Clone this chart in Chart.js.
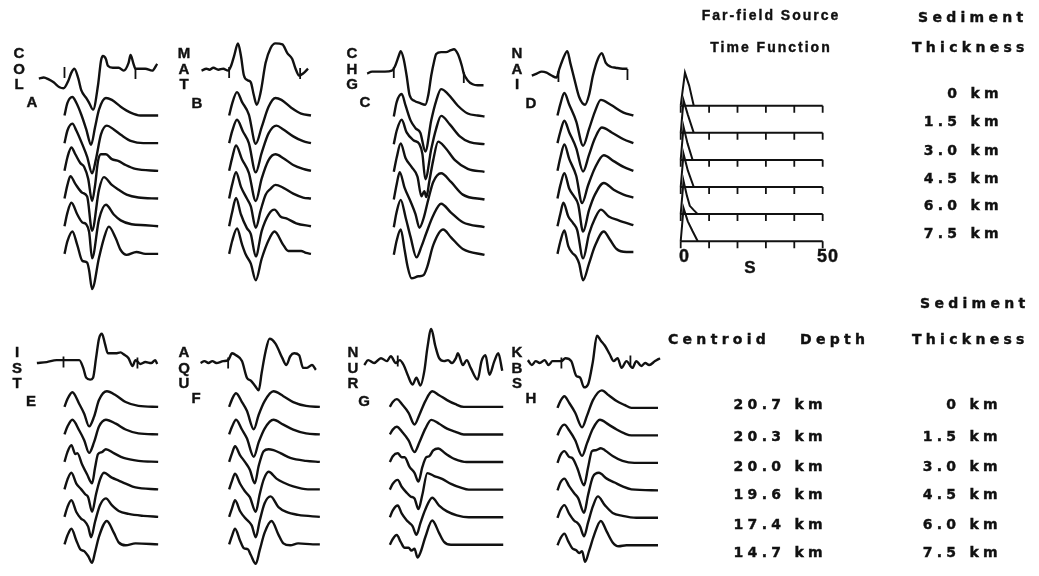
<!DOCTYPE html>
<html>
<head>
<meta charset="utf-8">
<script src="https://cdn.jsdelivr.net/npm/chart.js@4/dist/chart.umd.min.js"></script>
<style>
  body { margin: 0; background: #fff; }
  #wrap { position: relative; width: 1039px; height: 576px; background: #fff; overflow: hidden; }
  #fig { position: absolute; left: 0; top: 0; }
  .t { position: absolute; font-family: 'Liberation Sans', Arial, sans-serif; font-weight: bold; color: #111;
       white-space: pre; line-height: 1; -webkit-text-stroke: 0.4px #111; }
  .m { font-family: 'DejaVu Sans', sans-serif; font-size: 14px; letter-spacing: 4.3px; }
  .c { transform: translate(-50%, -50%); }
  .l { transform: translate(0, -50%); }
  .r { transform: translate(-100%, -50%); }
</style>
</head>
<body>
<div id="wrap">
  <canvas id="fig" width="1039" height="576"></canvas>
</div>
<script>
// ==========================================
// Record section: observed (top) vs synthetics for 6 sediment thicknesses
// t = horizontal sample, a = amplitude (plot units)
// ==========================================

const stations = ['COL', 'MAT', 'CHG', 'NAI', 'IST', 'AQU', 'NUR', 'KBS'];
const panelLetters = ['A', 'B', 'C', 'D', 'E', 'F', 'G', 'H'];
const thicknessKm = ['0', '1.5', '3.0', '4.5', '6.0', '7.5'];
const centroidDepthKm = ['20.7', '20.3', '20.0', '19.6', '17.4', '14.7'];
const stfTicks = [0, 10, 20, 30, 40, 50];

// --- A: COL
const colObs = [[0,0],[5,1],[10,-1],[15,-4],[21,-9],[25,-10],[30,-2],[33,6],[36,10],[40,0],[43,-12],[48,-20],[51,-25],[55,-32],[60,-7],[63,18],[65,23],[68,20],[70,13],[75,11],[81,11],[86,8],[91,16],[93,24],[96,15],[98,10],[101,10],[108,10],[115,8],[120,15]];
const colPicks = [[26,6],[98,5]];
const colSyn = [
  [[0,0],[3,13],[8,19],[12,13],[17,1],[22,-14],[27,-30],[31,-12],[35,6],[42,18],[48,16],[57,9],[67,3],[77,0],[95,0]],
  [[0,0],[3,13],[8,20],[12,13],[18,-1],[23,-14],[28,-31],[32,-16],[37,9],[43,18],[50,14],[58,8],[68,2],[80,0],[95,0]],
  [[0,0],[3,14],[7,24],[11,17],[16,8],[20,4],[24,-8],[28,-31],[31,-15],[34,10],[37,17],[42,17],[48,12],[55,10],[62,6],[72,2],[95,0]],
  [[0,0],[3,14],[6,23],[11,15],[18,6],[23,2],[28,-33],[35,9],[40,22],[48,14],[55,9],[63,4],[75,1],[95,0]],
  [[0,0],[3,14],[7,24],[13,12],[18,4],[22,2],[25,-6],[28,-33],[35,7],[42,22],[50,12],[57,6],[68,2],[82,1],[95,0]],
  [[0,0],[3,13],[8,23],[13,9],[18,-7],[23,-9],[25,-17],[28,-36],[35,-4],[40,16],[45,28],[52,16],[57,4],[63,-1],[73,2],[82,0],[95,0]]
];

// --- B: MAT
const matObs = [[0,0],[5,2],[8,1],[12,3],[17,1],[22,2],[27,0],[30,5],[33,15],[37,28],[40,15],[43,-5],[47,-10],[50,-12],[53,-25],[56,-35],[60,-22],[65,8],[70,23],[75,28],[82,27],[87,18],[92,12],[95,3],[99,-5],[103,-3],[108,2]];
const matPicks = [[28,-2],[100,-3]];
const matSyn = [
  [[0,0],[3,12],[8,24],[13,14],[20,1],[27,-29],[33,-12],[40,9],[47,18],[53,16],[63,8],[73,2],[83,0]],
  [[0,0],[3,12],[8,24],[14,12],[20,0],[27,-30],[33,-10],[40,10],[48,18],[55,14],[65,7],[75,2],[83,0]],
  [[0,0],[3,13],[7,26],[13,12],[20,-2],[27,-31],[33,-8],[40,11],[47,17],[55,13],[65,6],[75,2],[83,0]],
  [[0,0],[3,14],[7,27],[12,12],[18,0],[22,-8],[27,-30],[32,-12],[37,4],[42,10],[47,14],[55,11],[65,5],[75,1],[83,0]],
  [[0,0],[3,14],[7,29],[12,12],[18,-2],[22,-8],[27,-31],[33,-5],[40,12],[46,17],[52,10],[58,8],[68,3],[83,0]],
  [[0,0],[3,13],[8,26],[13,10],[17,-1],[22,-10],[27,-27],[33,-5],[40,14],[46,23],[55,9],[60,3],[73,3],[78,1],[83,0]]
];

// --- C: CHG
const chgObs = [[0,0],[5,2],[12,2],[18,2],[25,3],[28,7],[32,18],[34,23],[37,15],[40,-2],[43,-22],[48,-28],[53,-30],[59,-32],[62,-22],[65,-2],[68,13],[70,20],[75,22],[80,22],[85,24],[88,25],[92,20],[96,8],[98,0],[102,-7],[107,-11],[112,-12],[118,-12]];
const chgPicks = [[27,1],[98,-4]];
const chgSyn = [
  [[0,0],[3,15],[8,23],[12,11],[17,-4],[22,-12],[27,-17],[32,-36],[38,-4],[43,16],[48,28],[55,23],[65,11],[75,3],[85,1],[92,0]],
  [[0,0],[3,14],[8,25],[13,12],[20,4],[26,0],[29,-10],[32,-36],[38,-5],[43,16],[48,29],[57,20],[67,8],[77,2],[92,0]],
  [[0,0],[3,15],[7,29],[12,14],[18,5],[24,-5],[28,-25],[31,-20],[33,-26],[36,-10],[40,12],[45,31],[52,25],[62,12],[75,3],[92,0]],
  [[0,0],[3,16],[6,28],[11,12],[17,-2],[22,-15],[26,-29],[30,-20],[35,0],[40,18],[48,27],[58,18],[70,5],[92,0]],
  [[0,0],[3,16],[7,28],[12,10],[17,-10],[23,-31],[28,-20],[33,-6],[40,12],[48,24],[58,15],[70,5],[92,0]],
  [[0,0],[3,15],[7,26],[11,5],[14,-12],[18,-24],[25,-22],[30,-21],[34,-12],[40,10],[50,26],[58,18],[70,6],[92,0]]
];

// --- D: NAI
const naiObs = [[0,0],[5,2],[10,4],[15,3],[20,0],[25,-2],[28,7],[32,18],[36,25],[39,13],[43,-3],[48,-22],[54,-30],[58,-20],[62,0],[67,17],[71,23],[75,13],[80,9],[85,8],[92,7],[97,7]];
const naiPicks = [[27,-1],[97,1]];
const naiSyn = [
  [[0,0],[3,12],[7,23],[12,11],[19,-6],[26,-31],[32,-14],[38,4],[44,16],[54,11],[67,3],[77,0]],
  [[0,0],[3,12],[7,23],[12,11],[19,-5],[26,-29],[32,-12],[38,5],[45,16],[55,11],[67,4],[77,0]],
  [[0,0],[3,14],[7,27],[12,12],[19,-5],[25,-33],[31,-15],[38,3],[47,16],[57,10],[67,4],[77,0]],
  [[0,0],[3,14],[7,26],[12,10],[17,2],[21,-6],[26,-34],[32,-12],[38,4],[47,16],[57,9],[67,4],[77,1]],
  [[0,0],[3,13],[6,24],[11,10],[16,3],[20,-4],[26,-33],[32,-8],[38,8],[44,17],[52,10],[62,6],[77,1]],
  [[0,0],[3,13],[7,24],[11,8],[15,1],[19,-3],[22,-10],[26,-27],[32,-10],[38,8],[47,23],[53,15],[60,5],[70,2],[77,2]]
];

// --- E: IST
const istObs = [[0,0],[10,1],[20,3],[27,3],[35,3],[43,3],[47,-5],[50,-15],[54,-17],[57,-15],[60,5],[63,25],[66,30],[69,20],[72,10],[80,10],[85,11],[88,9],[93,5],[97,-3],[100,3],[105,-1],[110,1],[116,0],[120,3],[122,-1]];
const istPicks = [[27,1],[102,0]];
const istSyn = [
  [[0,0],[3,8],[8,15],[15,3],[20,-7],[25,-20],[30,-10],[35,7],[43,16],[52,12],[62,5],[75,1],[95,0]],
  [[0,0],[3,8],[8,15],[15,4],[20,-6],[25,-19],[30,-8],[35,8],[42,15],[52,11],[62,5],[75,1],[95,0]],
  [[0,0],[3,10],[7,17],[11,8],[13,9],[18,-3],[23,-13],[28,-22],[31,-6],[34,8],[38,10],[42,13],[50,9],[60,4],[75,1],[95,0]],
  [[0,0],[3,10],[7,17],[12,6],[17,0],[21,-5],[24,-8],[28,-23],[32,-5],[36,10],[40,17],[48,12],[55,9],[62,6],[72,2],[95,0]],
  [[0,0],[3,10],[7,17],[12,5],[17,-2],[20,-4],[24,-10],[27,-21],[31,-5],[36,12],[42,19],[48,12],[55,6],[65,3],[80,1],[95,0]],
  [[0,0],[3,9],[7,16],[12,4],[16,-5],[20,-7],[24,-12],[28,-19],[31,-8],[35,8],[43,24],[50,12],[55,2],[62,-1],[72,1],[95,0]]
];

// --- F: AQU
const aquObs = [[0,0],[4,2],[8,0],[12,2],[16,0],[23,2],[28,3],[32,10],[36,8],[42,2],[47,-15],[51,-18],[55,-23],[59,-28],[62,-10],[66,12],[70,25],[76,20],[83,5],[87,-2],[91,7],[95,10],[100,8],[104,-5],[108,-5],[113,-2],[117,-7]];
const aquPicks = [[28,0]];
const aquSyn = [
  [[0,0],[3,8],[7,14],[13,5],[18,-4],[25,-23],[30,-8],[36,6],[45,16],[55,11],[65,5],[78,1],[92,0]],
  [[0,0],[3,8],[7,15],[13,5],[18,-4],[25,-23],[30,-8],[36,6],[45,15],[55,10],[65,5],[78,1],[92,0]],
  [[0,0],[3,9],[6,16],[11,7],[16,0],[21,-8],[26,-22],[30,-4],[35,11],[40,13],[45,12],[52,9],[62,4],[78,1],[92,0]],
  [[0,0],[3,9],[6,16],[11,6],[16,-2],[21,-8],[27,-23],[31,-5],[35,10],[40,18],[48,11],[55,7],[65,3],[80,0],[92,0]],
  [[0,0],[3,9],[6,17],[11,6],[16,-1],[20,-5],[23,-9],[27,-21],[31,-4],[36,14],[42,21],[50,10],[58,5],[70,2],[92,0]],
  [[0,0],[3,9],[6,16],[11,4],[15,-4],[19,-5],[22,-11],[27,-20],[31,-6],[36,12],[43,24],[50,10],[55,1],[62,-1],[70,1],[85,0],[92,0]]
];

// --- G: NUR
const nurObs = [[0,-2],[4,3],[10,0],[17,5],[23,2],[27,7],[32,0],[36,3],[40,-2],[44,-12],[49,-22],[53,-15],[57,-23],[61,-8],[64,15],[68,35],[72,18],[76,5],[81,2],[85,3],[89,0],[93,5],[95,10],[100,-2],[104,3],[108,-5],[115,-17],[119,2],[123,8],[127,-12],[132,2],[136,10],[140,-8]];
const nurPicks = [[34,2]];
const nurSyn = [
  [[0,0],[3,5],[7,8],[13,2],[19,-6],[25,-18],[30,-8],[36,6],[43,16],[50,12],[58,7],[66,3],[75,0],[115,0]],
  [[0,0],[3,5],[7,8],[13,2],[19,-6],[25,-18],[30,-8],[36,6],[42,15],[50,11],[58,6],[66,3],[75,0],[115,0]],
  [[0,0],[3,6],[8,9],[12,5],[15,5],[20,-5],[25,-11],[29,-20],[33,-5],[37,5],[40,6],[44,12],[49,14],[56,9],[66,3],[78,0],[115,0]],
  [[0,0],[3,6],[8,10],[12,3],[17,-3],[21,-7],[25,-9],[29,-20],[33,-5],[38,17],[45,14],[53,11],[62,6],[72,2],[80,0],[115,0]],
  [[0,0],[3,7],[8,12],[12,4],[17,-3],[20,-6],[23,-9],[27,-18],[31,-6],[36,8],[43,20],[50,12],[58,6],[68,2],[80,0],[115,0]],
  [[0,0],[3,6],[7,10],[11,3],[15,-3],[19,-3],[22,-6],[25,-4],[28,-13],[31,-8],[36,8],[43,25],[50,12],[55,3],[62,0],[75,0],[115,0]]
];

// --- H: KBS
const kbsObs = [[0,2],[4,-3],[8,1],[12,-1],[17,2],[21,-3],[25,1],[34,1],[38,4],[44,1],[49,-14],[53,-16],[57,-26],[61,-23],[66,1],[70,27],[74,22],[78,17],[83,8],[87,1],[91,4],[95,-6],[100,1],[106,-6],[110,1],[115,-4],[119,-1],[123,-3],[129,1],[134,4]];
const kbsPicks = [[34,-1],[104,1]];
const kbsSyn = [
  [[0,0],[3,7],[7,12],[12,5],[18,-5],[25,-20],[30,-8],[36,8],[45,18],[52,13],[60,7],[68,3],[75,0],[102,0]],
  [[0,0],[3,7],[7,11],[12,5],[18,-5],[25,-21],[30,-8],[36,7],[43,16],[52,11],[60,6],[68,2],[75,0],[102,0]],
  [[0,0],[3,8],[7,12],[12,6],[15,5],[20,-5],[27,-23],[31,-5],[35,12],[39,13],[44,15],[48,13],[56,7],[66,2],[78,0],[102,0]],
  [[0,0],[3,8],[7,12],[12,4],[17,-3],[21,-8],[27,-23],[31,-5],[36,14],[42,18],[50,12],[58,8],[66,4],[75,1],[102,0]],
  [[0,0],[3,8],[7,13],[12,4],[17,-3],[20,-5],[23,-9],[27,-19],[31,-5],[36,12],[41,22],[48,13],[56,5],[66,2],[80,0],[102,0]],
  [[0,0],[3,7],[7,12],[11,4],[15,-3],[19,-5],[22,-8],[25,-6],[28,-17],[32,-6],[37,10],[44,25],[50,14],[56,3],[62,-1],[70,0],[85,0],[102,0]]
];

// --- far-field source time functions (s, normalised amplitude)
const stf = [
  [[0,0],[1.5,1],[3,0.6],[4.6,0]],
  [[0,0],[1,0.98],[2.5,0.55],[4.6,0]],
  [[0,0],[1,1],[2.4,0.5],[4.2,0]],
  [[0,0],[1,1],[2.5,0.5],[4.6,0]],
  [[0,0],[1,1],[2.2,0.55],[3.2,0.25],[4.6,0.12],[6,0]],
  [[0,0],[1,1],[2.5,0.6],[4.2,0.3],[6,0]]
];

// ---------------- layout (page pixels) ----------------
const panels = [
  { obs: colObs, picks: colPicks, syn: colSyn, obsX: 32,  obsY: 73,  synX: 58,  synY: 111, gap: 28.4, codeX: 19,  codeY: 52,  labX: 32,  labY: 101 },
  { obs: matObs, picks: matPicks, syn: matSyn, obsX: 197, obsY: 65,  synX: 225, synY: 111, gap: 28.4, codeX: 184, codeY: 52,  labX: 197, labY: 102 },
  { obs: chgObs, picks: chgPicks, syn: chgSyn, obsX: 365, obsY: 68,  synX: 392, synY: 112, gap: 28.4, codeX: 352, codeY: 52,  labX: 365, labY: 101 },
  { obs: naiObs, picks: naiPicks, syn: naiSyn, obsX: 532, obsY: 70,  synX: 558, synY: 111, gap: 28.4, codeX: 517, codeY: 52,  labX: 531, labY: 102 },
  { obs: istObs, picks: istPicks, syn: istSyn, obsX: 30,  obsY: 365, synX: 58,  synY: 410, gap: 28.2, codeX: 17,  codeY: 351, labX: 31,  labY: 400 },
  { obs: aquObs, picks: aquPicks, syn: aquSyn, obsX: 196, obsY: 365, synX: 225, synY: 410, gap: 28.2, codeX: 184, codeY: 351, labX: 196, labY: 397 },
  { obs: nurObs, picks: nurPicks, syn: nurSyn, obsX: 362, obsY: 365, synX: 388, synY: 410, gap: 28.3, codeX: 353, codeY: 351, labX: 364, labY: 400 },
  { obs: kbsObs, picks: kbsPicks, syn: kbsSyn, obsX: 528, obsY: 364, synX: 558, synY: 411, gap: 28.2, codeX: 517, codeY: 351, labX: 531, labY: 397 }
];
const letterStep = 15.5;
const stfBox = { x0: 683, pxPerS: 2.88, y0: 101, gap: 27.8, amp: 34, tick: 7 };

const ink = '#111';
const wave = (data, extra) => Object.assign({
  data, showLine: true, borderColor: ink, borderWidth: 2.4, pointRadius: 0,
  cubicInterpolationMode: 'monotone', fill: false
}, extra || {});
const ticks = (data, r) => ({
  data, showLine: false, pointStyle: 'line', rotation: 90, pointRadius: r,
  pointBorderColor: ink, borderColor: ink, pointBorderWidth: 1.8, borderWidth: 1.8
});

const datasets = [];
panels.forEach((p) => {
  datasets.push(wave(p.obs.map(([t, a]) => ({ x: p.obsX + t, y: p.obsY - a }))));
  datasets.push(ticks(p.picks.map(([t, a]) => ({ x: p.obsX + t, y: p.obsY - a })), 5.5));
  p.syn.forEach((s, k) => {
    datasets.push(wave(s.map(([t, a]) => ({ x: p.synX + t, y: p.synY + k * p.gap - a }))));
  });
});

const sx = (t) => stfBox.x0 + t * stfBox.pxPerS;
stf.forEach((s, k) => {
  const b = stfBox.y0 + k * stfBox.gap;
  const first = stfTicks[0], last = stfTicks[stfTicks.length - 1];
  datasets.push(wave([{ x: sx(first), y: b }, { x: sx(last), y: b }], { cubicInterpolationMode: 'default', tension: 0, borderWidth: 2 }));
  datasets.push(ticks(stfTicks.map(v => ({ x: sx(v), y: b + stfBox.tick / 2 })), stfBox.tick / 2));
  datasets.push(wave(s.map(([t, a]) => ({ x: sx(t), y: b - a * stfBox.amp })), { cubicInterpolationMode: 'default', tension: 0, borderWidth: 2 }));
});

new Chart(document.getElementById('fig'), {
  type: 'scatter',
  data: { datasets },
  options: {
    responsive: false,
    animation: false,
    events: [],
    layout: { padding: 0 },
    plugins: { legend: { display: false }, tooltip: { enabled: false } },
    scales: {
      x: { type: 'linear', min: 0, max: 1039, display: false },
      y: { type: 'linear', min: 0, max: 576, reverse: true, display: false }
    }
  }
});

// ---------------- text ----------------
const wrap = document.getElementById('wrap');
const addText = (txt, x, y, cls, size) => {
  const d = document.createElement('div');
  d.className = 't ' + cls;
  d.textContent = txt;
  d.style.left = x + 'px';
  d.style.top = y + 'px';
  if (size) d.style.fontSize = size + 'px';
  wrap.appendChild(d);
  return d;
};

panels.forEach((p, i) => {
  stations[i].split('').forEach((ch, j) => addText(ch, p.codeX, p.codeY + j * letterStep, 'c', 15));
  addText(panelLetters[i], p.labX, p.labY, 'c', 15);
});

addText('Far-field Source', 771, 15, 'c', 14).style.letterSpacing = '2px';
addText('Time Function', 771, 47, 'c', 14).style.letterSpacing = '2px';
addText(String(stfTicks[0]), sx(stfTicks[0]) + 1, 256, 'c', 18);
addText(String(stfTicks[stfTicks.length - 1]), sx(stfTicks[stfTicks.length - 1]) + 1, 256, 'c', 18).style.letterSpacing = '1px';
addText('S', 750, 267, 'c', 17);

addText('Sediment', 918, 17, 'm l');
addText('Thickness', 912, 47, 'm l');
const topRows = [93, 121, 150, 178, 205, 233];
thicknessKm.forEach((v, k) => addText(v + ' km', 1003, topRows[k], 'm r'));

addText('Sediment', 920, 303, 'm l');
addText('Thickness', 912, 339, 'm l');
addText('Centroid', 668, 339, 'm l');
addText('Depth', 800, 339, 'm l');
const botRows = [404, 436, 466, 494, 524, 552];
centroidDepthKm.forEach((v, k) => addText(v + ' km', 827, botRows[k], 'm r'));
thicknessKm.forEach((v, k) => addText(v + ' km', 1002, botRows[k], 'm r'));
</script>
</body>
</html>
